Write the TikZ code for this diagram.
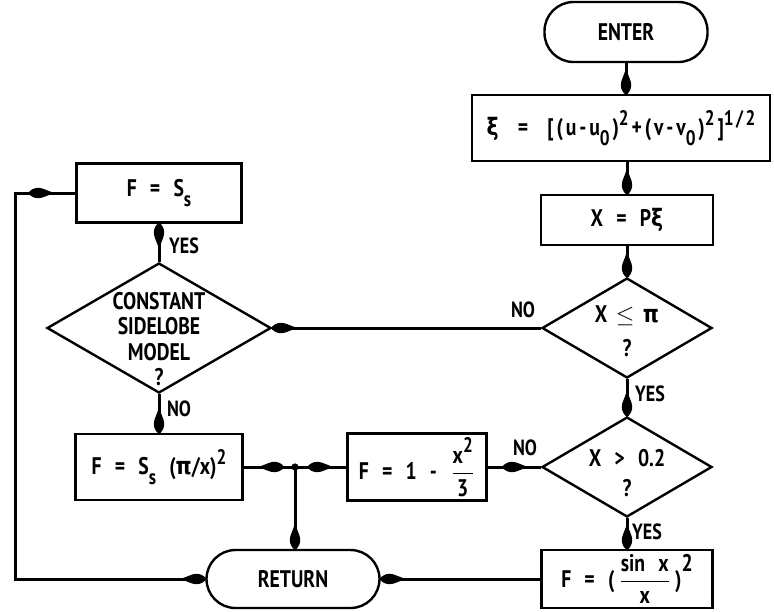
\documentclass[tikz,border=0pt]{standalone}
\usepackage{fontspec}
\usepackage{amsmath}
\setmainfont{PT Sans}[FakeStretch=0.82]
\newfontfamily\grk{DejaVu Sans}[FakeStretch=0.85]
\usetikzlibrary{shapes.geometric,decorations.markings}
\newcommand\upx[1]{\raisebox{0.9ex}{\fontsize{10.5}{12}\selectfont #1}}
\newcommand\lox[1]{\raisebox{-0.8ex}{\fontsize{10.5}{12}\selectfont #1}}
\newcommand\gap{\hspace{0.55em}}
\newcommand\tg{\hspace{0.12em}}
\tikzset{
  box/.style={draw, line width=1.2pt, inner sep=2pt},
  term/.style={draw, line width=1.2pt, rounded corners=14.5pt, inner sep=2pt},
  dia/.style={draw, diamond, line width=1.2pt, inner sep=0pt},
  conn/.style={line width=1.5pt},
  mk/.style={postaction={decorate, decoration={markings,
      mark=at position #1 with {\fill (0.6pt,0pt) .. controls (-0.8pt,1.8pt) and (-2.5pt,2.6pt) .. (-4.5pt,2.6pt)
         .. controls (-7pt,2.6pt) and (-9pt,0.9pt) .. (-13pt,0pt)
         .. controls (-9pt,-0.9pt) and (-7pt,-2.6pt) .. (-4.5pt,-2.6pt)
         .. controls (-2.5pt,-2.6pt) and (-0.8pt,-1.8pt) .. (0.6pt,0pt) -- cycle;}}}},
  lbl/.style={font=\fontsize{11}{13}\selectfont\bfseries, inner sep=0pt},
}
\begin{document}
\begin{tikzpicture}[x=0.5pt, y=-0.5pt, font=\fontsize{12}{14}\selectfont\bfseries]
\useasboundingbox (0,0) rectangle (774,611);

% right column
\node[term, minimum width=81.5pt, minimum height=30pt] (enter) at (626,32) {ENTER};
\node[box, minimum width=149pt, minimum height=33pt] (xi) at (621,128)
  {{\grk ξ}\hspace{0.8em}=\hspace{0.8em}[\tg(\tg u\tg-\tg u\lox{0}\tg)\upx{2}\tg+\tg(\tg v\tg-\tg v\lox{0}\tg)\upx{2}\tg]\upx{1\tg/\tg2}};
\node[box, minimum width=86pt, minimum height=25pt] (xp) at (627,220) {X\gap=\gap P{\grk ξ}};
\node[dia, minimum width=85pt, minimum height=50pt] (d1) at (627,328) {};
\node[align=center, inner sep=0pt] at (627,331) {X\hspace{0.35em}$\leq$\hspace{0.35em}{\grk π}\\[3pt]?};
\node[dia, minimum width=85pt, minimum height=50pt] (d2) at (627,467) {};
\node[align=center, inner sep=0pt] at (627,473) {X\gap\textgreater\gap 0.2\\[1pt]?};
\node[box, minimum width=85.5pt, minimum height=28.5pt] (sin) at (627,579)
  {F\gap=\gap (\,$\dfrac{\text{sin\gap x}}{\text{x}}$\,)\raisebox{1.3ex}{2}};

% middle
\node[box, minimum width=69.5pt, minimum height=33pt] (f13) at (417,467)
  {F\gap=\gap 1\gap-\gap$\dfrac{\text{x\upx{2}}}{\text{3}}$};
\node[term, minimum width=86.5pt, minimum height=29pt] (ret) at (293,579) {RETURN};

% left column
\node[box, minimum width=82.5pt, minimum height=29.5pt] (fs) at (159,193) {F\gap=\gap S\lox{s}};
\node[dia, minimum width=112pt, minimum height=65pt] (d3) at (159,328) {};
\node[align=center, inner sep=0pt, font=\fontsize{12}{12.8}\selectfont\bfseries] at (159,339) {CONSTANT\\SIDELOBE\\MODEL\\?};
\node[box, minimum width=83.5pt, minimum height=33pt] (fss) at (159,467)
  {F\gap=\gap S\lox{s}\gap({\grk π}/x)\upx{2}};

\coordinate (jn) at (295,467);
\coordinate (lc) at (15,193);

% connectors
\draw[conn, mk=1] (enter.south) -- (enter.south |- xi.north);
\draw[conn, mk=1] (xi.south -| xp) -- (xp.north);
\draw[conn, mk=1] (xp.south) -- (d1.north);
\draw[conn, mk=1] (d1.west) -- (d3.east);
\draw[conn, mk=1] (d1.south) -- (d2.north);
\draw[conn, mk=0.71] (d2.west) -- (f13.east);
\draw[conn, mk=1] (d2.south) -- (sin.north);
\draw[conn, mk=1] (sin.west) -- (ret.east);
\draw[conn, mk=1] (d3.north) -- (fs.south);
\draw[conn, mk=1] (d3.south) -- (fss.north);
\draw[conn, mk=0.77] (fss.east) -- (jn);
\draw[conn, mk=0.74] (f13.west) -- (jn);
\draw[conn, mk=1] (jn) -- (jn |- ret.north);
\draw[conn, mk=23pt, mk=1] (fs.west) -- (lc) |- (ret.west);
\fill (jn) circle (1.8pt);

% labels
\node[lbl] at (523,310) {NO};
\node[lbl] at (650,394) {YES};
\node[lbl] at (525,448) {NO};
\node[lbl] at (647,532) {YES};
\node[lbl] at (184,246) {YES};
\node[lbl] at (179,409) {NO};
\end{tikzpicture}
\end{document}
